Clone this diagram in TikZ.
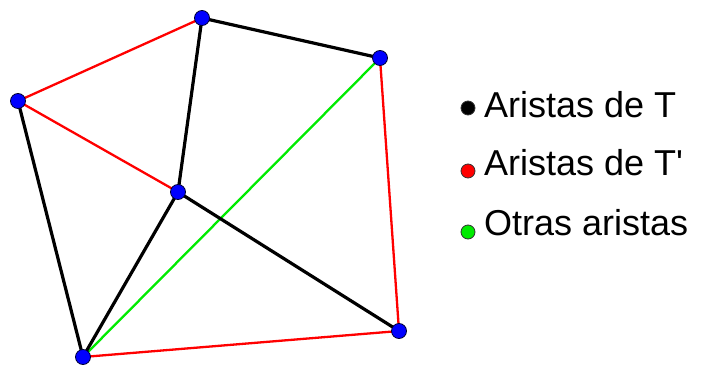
\documentclass[tikz,border=0pt]{standalone}
\usepackage{fontspec}
\setmainfont{Liberation Sans}
\usetikzlibrary{backgrounds}
\usepackage{xcolor}
\definecolor{VertBlue}{RGB}{0,0,255}
\definecolor{EdgeRed}{RGB}{255,0,0}
\definecolor{EdgeGreen}{RGB}{0,235,0}
\newcommand{\straightquote}{\XeTeXglyph\XeTeXglyphindex "quotesingle"\relax}
\begin{document}
\begin{tikzpicture}[
x=1pt,y=-1pt,
vert/.style={circle,draw=black!80!blue,fill=VertBlue,line width=0.8pt,minimum size=15pt,inner sep=0pt},
dot/.style={circle,draw=black!80,line width=0.8pt,minimum size=14pt,inner sep=0pt},
tedge/.style={line width=3.2pt,draw=black},
redge/.style={line width=2.3pt,draw=EdgeRed},
gedge/.style={line width=2.3pt,draw=EdgeGreen},
label/.style={anchor=base west,inner sep=0pt,font=\fontsize{36}{40}\selectfont}
]
\useasboundingbox (0,0) rectangle (704,366);
\node[vert] (a) at (202,18) {};
\node[vert] (b) at (380,58) {};
\node[vert] (c) at (18,101) {};
\node[vert] (d) at (178,192) {};
\node[vert] (e) at (399,331) {};
\node[vert] (f) at (83,357) {};
% edges
\begin{scope}[on background layer]
\draw[gedge] (f.center)--(b.center);
\draw[redge] (c.center)--(a.center); \draw[redge] (c.center)--(d.center);
\draw[redge] (b.center)--(e.center); \draw[redge] (f.center)--(e.center);
\draw[tedge] (a.center)--(b.center); \draw[tedge] (a.center)--(d.center);
\draw[tedge] (c.center)--(f.center); \draw[tedge] (d.center)--(f.center);
\draw[tedge] (d.center)--(e.center);
\end{scope}
% legend
\node[dot,fill=black] (k1) at (468,108) {};
\node[dot,fill=EdgeRed] (k2) at (468,171) {};
\node[dot,fill=EdgeGreen] (k3) at (468,232) {};
\node[label] (t1) at (484,118) {Aristas de T};
\node[label] (t2) at (484,176) {Aristas de T\straightquote};
\node[label] (t3) at (484,236) {Otras aristas};
\end{tikzpicture}
\end{document}
